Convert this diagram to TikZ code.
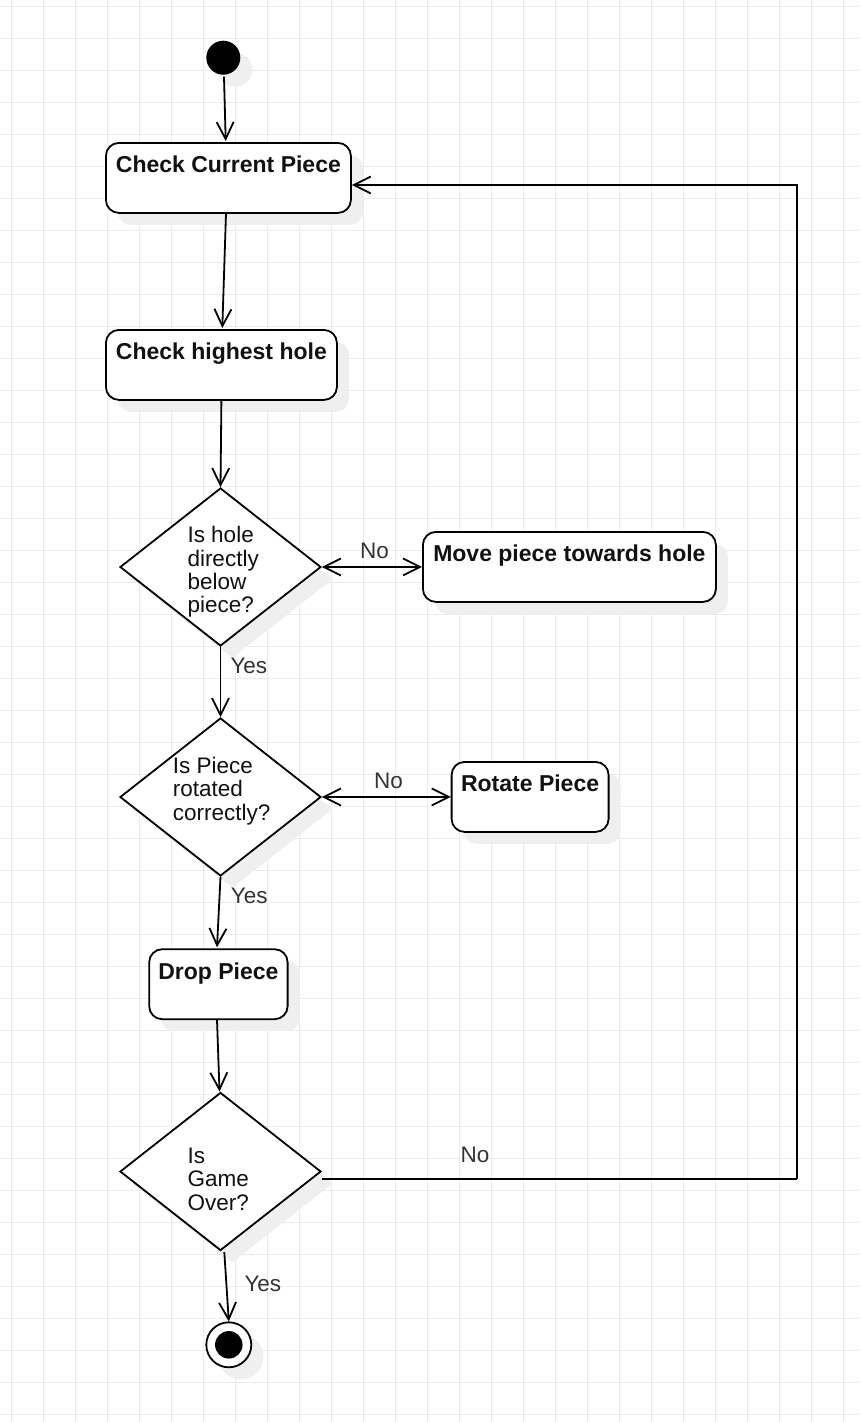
\documentclass[tikz,border=0pt]{standalone}
\usepackage{fontspec}
\setmainfont{Liberation Sans}
\usetikzlibrary{shapes.geometric,shadows,arrows.meta,calc}
\definecolor{gridc}{RGB}{235,235,235}
\definecolor{shadowc}{RGB}{239,239,239}
\definecolor{txtc}{RGB}{17,17,17}
\definecolor{lblc}{RGB}{51,51,51}
\tikzset{
  shad/.style={drop shadow={shadow xshift=12pt, shadow yshift=-12pt, fill=shadowc, opacity=1}},
  actbox/.style={draw=black, fill=white, line width=1.8pt, rounded corners=13pt, shad,
    inner xsep=0pt, inner ysep=0pt, minimum height=70pt, text height=30pt, text depth=40pt,
    font=\fontsize{23}{24}\selectfont\bfseries, text=txtc, anchor=north west},
  decis/.style={draw=black, fill=white, diamond, line width=1.8pt, shad, inner sep=0pt,
    minimum width=201pt, minimum height=158pt},
  dtext/.style={align=left, anchor=base west, inner sep=0pt, text=txtc,
    font=\fontsize{22.5}{23.3}\selectfont},
  lbl/.style={inner sep=0pt, anchor=base west, text=lblc, font=\fontsize{22.5}{23.3}\selectfont},
  conn/.style={line width=1.8pt, -{Straight Barb[length=17pt, width=17pt, line width=1.8pt]}},
  conn2/.style={line width=1.8pt, {Straight Barb[length=17pt, width=17pt, line width=1.8pt]}-{Straight Barb[length=17pt, width=17pt, line width=1.8pt]}},
}
\begin{document}
\begin{tikzpicture}[x=1pt, y=-1pt]
\useasboundingbox[fill=white] (0,0) rectangle (860,1422);
% grid
\foreach \k in {0,...,26} { \draw[gridc, line width=1.1pt] ({11.3+32*\k},0) -- ({11.3+32*\k},1422); }
\foreach \k in {0,...,44} { \draw[gridc, line width=1.1pt] (0,{6.3+32*\k}) -- (860,{6.3+32*\k}); }

% start / end
\node[circle, fill=black, minimum size=34pt, inner sep=0pt, shad] (start) at (223.3,57.7) {};
\node[circle, draw=black, fill=white, line width=1.8pt, minimum size=45pt, inner sep=0pt, shad] (end) at (228.8,1344.8) {};
\node[circle, fill=black, minimum size=27.5pt, inner sep=0pt] (endin) at (end.center) {};

% action boxes
\node[actbox, minimum width=245pt] (b1) at (105,142) {Check Current Piece};
\node[actbox, minimum width=231pt] (b2) at (105,329) {Check highest hole};
\node[actbox, minimum width=293pt] (b3) at (422,531) {Move piece towards hole};
\node[actbox, minimum width=157pt] (b4) at (450.7,761) {Rotate Piece};
\node[actbox, minimum width=138.4pt] (b5) at (148.3,948.3) {Drop Piece};

% decisions
\node[decis] (d1) at (220.5,567) {};
\node[decis] (d2) at (220.5,797) {};
\node[decis] (d3) at (220.5,1171.5) {};
\node[dtext] (d1t) at (187.3,612.7) {Is hole\\directly\\below\\piece?};
\node[dtext] (d2t) at (172.7,820) {Is Piece\\rotated\\correctly?};
\node[dtext] (d3t) at (187.3,1210) {Is\\Game\\Over?};

% connectors
\draw[conn] (224,76.7) -- (225.7,141);
\draw[conn] (226,213.5) -- (222.3,328);
\draw[conn] (b2.south) -- (d1.north);
\draw[conn2] (d1.east) -- (b3.west);
\draw[conn] (d1.south) -- (d2.north);
\draw[conn2] (d2.east) -- (b4.west);
\draw[conn] (d2.south) -- (217,947.3);
\draw[conn] (217,1019.5) -- (219.5,1091.5);
\coordinate (c1) at (796.7,1178.7);
\coordinate (c2) at (796.7,185);
\draw[conn, -] (321.5,1178.7) -- (c1);
\draw[conn] (c1) -- (c2) -- (b1.east |- c2);
\draw[conn] (224.3,1252) -- (end.north);

% labels
\node[lbl] (l1) at (360,558.3) {No};
\node[lbl] (l2) at (230.3,673) {Yes};
\node[lbl] (l3) at (374,788.3) {No};
\node[lbl] (l4) at (230.7,903.3) {Yes};
\node[lbl] (l5) at (460.5,1162.3) {No};
\node[lbl] (l6) at (244.3,1291.7) {Yes};
\end{tikzpicture}
\end{document}
